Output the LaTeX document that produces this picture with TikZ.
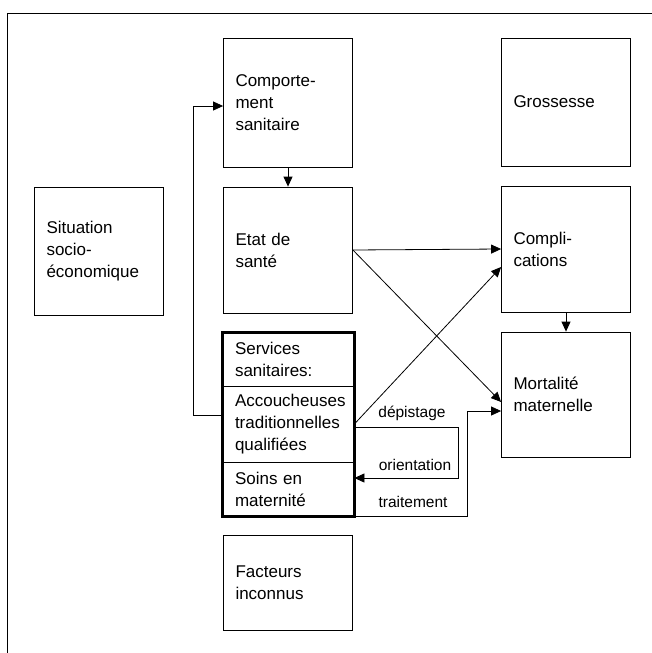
\documentclass[tikz,border=0pt]{standalone}
\usepackage{fontspec}
\setmainfont{Liberation Sans}
\usetikzlibrary{arrows.meta, calc}
\hyphenpenalty=10000

\begin{document}
\begin{tikzpicture}[
        x=1pt, y=-1pt,
        font=\fontsize{17}{22}\selectfont,
        box/.style={draw, line width=0.8pt, minimum width=129pt, text width=105pt,
            inner xsep=12pt, inner ysep=0pt, align=left},
        part/.style={box, minimum width=131pt, text width=107pt},
        link/.style={line width=0.8pt},
        linklabel/.style={font=\fontsize{15.5}{18}\selectfont},
        >={Triangle[length=10pt, width=9pt]}
    ]

    \useasboundingbox (0,0) rectangle (652,653);

    % ---- frame (cut at right and bottom) ----
    \draw[line width=1pt] (7,653) -- (7,13) -- (652,13);

    % ---- left column ----
    \node[box, minimum height=128pt] (situ) at (99,251) {Situation\\socio-\\\'economique};

    % ---- middle column ----
    \node[box, minimum height=129pt] (comport) at (288,102.5) {Comporte-\\ment\\sanitaire};
    \node[box, minimum height=126pt] (etat) at (288,250) {Etat de\\sant\'e};
    \node[part, minimum height=53pt] (serv) at (288.5,359.5) {Services\\sanitaires:};
    \node[part, minimum height=76pt] (acc) at (288.5,424) {Accoucheuses\\traditionnelles\\qualifi\'ees};
    \node[part, minimum height=54pt] (soins) at (288.5,489) {Soins en\\maternit\'e};
    \draw[line width=2.8pt] (serv.north west) rectangle (soins.south east);
    \node[box, minimum height=95pt] (fact) at (288,582.5) {Facteurs\\inconnus};

    % ---- right column ----
    \node[box, minimum height=128pt] (gross) at (566,102) {Grossesse};
    \node[box, minimum height=126pt] (compl) at (566,249) {Compli-\\cations};
    \node[box, minimum height=125pt] (mort) at (566,394.5) {Mortalit\'e\\maternelle};

    % ---- feedback: services -> behaviour ----
    \draw[link, ->] ($(acc.west)+(0,-9)$) -- ++(-29,0) |- ($(comport.west)+(0,3.5)$);

    % ---- vertical links ----
    \draw[link, ->] (comport.south) -- (etat.north);
    \draw[link, ->] (compl.south) -- (mort.north);

    % ---- health status -> complications / mortality ----
    \draw[link, ->] (etat.east) -- (compl.west);
    \draw[link, ->] (etat.east) -- ($(mort.west)+(0,7.5)$);

    % ---- services -> complications ----
    \draw[link, ->] (acc.east) -- ($(compl.west)+(0,18)$);

    % ---- screening / referral loop ----
    \draw[link, ->] ($(acc.east)+(0,3)$) -- ++(104,0) |- ($(soins.east)+(0,-11)$);
    \node[linklabel] (dep) at (412,413) {d\'epistage};
    \node[linklabel] (orient) at (415,465) {orientation};

    % ---- treatment -> mortality ----
    \draw[link, ->] (soins.south east) -- ++(113,0) |- ($(mort.west)+(0,16.5)$);
    \node[linklabel] (trait) at (413,502) {traitement};

\end{tikzpicture}
\end{document}
